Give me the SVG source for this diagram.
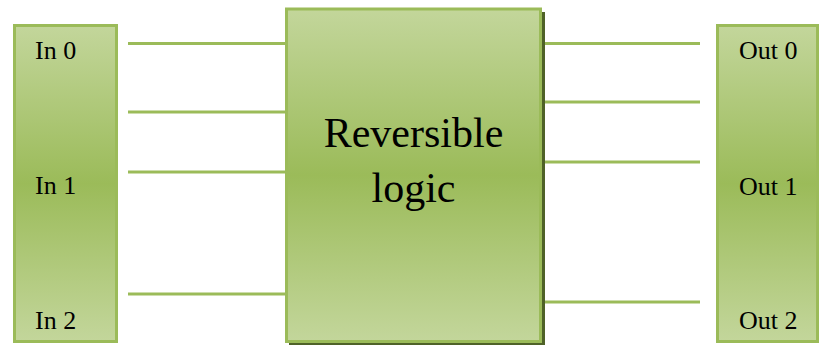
<svg xmlns="http://www.w3.org/2000/svg" width="822" height="347" viewBox="0 0 822 347">
<defs>
<linearGradient id="g" x1="0" y1="0" x2="0" y2="1">
<stop offset="0" stop-color="#C3D69B"/>
<stop offset="0.5" stop-color="#9BBB59"/>
<stop offset="1" stop-color="#C3D69B"/>
</linearGradient>
<style>
.box{fill:url(#g);stroke:#9BBB59;stroke-width:3}
.shadow{fill:#4F6228}
.ln{stroke:#9BBB59;stroke-width:3;fill:none}
.t{font-family:"Liberation Serif","Times New Roman",serif;font-size:26px;fill:#000}
.big{font-family:"Liberation Serif","Times New Roman",serif;font-size:42px;fill:#000;text-anchor:middle}
</style>
</defs>
<rect width="822" height="347" fill="#fff"/>
<g id="connectors">
<line class="ln" x1="128" y1="43.5" x2="286" y2="43.5"/>
<line class="ln" x1="128" y1="112" x2="286" y2="112"/>
<line class="ln" x1="128" y1="172" x2="286" y2="172"/>
<line class="ln" x1="128" y1="294" x2="286" y2="294"/>
<line class="ln" x1="542" y1="43.5" x2="700" y2="43.5"/>
<line class="ln" x1="542" y1="102" x2="700" y2="102"/>
<line class="ln" x1="542" y1="162" x2="700" y2="162"/>
<line class="ln" x1="542" y1="302" x2="700" y2="302"/>
</g>
<g id="inputs">
<rect class="box" x="14.5" y="25.5" width="102" height="316"/>
<text class="t" x="35" y="59">In 0</text>
<text class="t" x="35" y="194">In 1</text>
<text class="t" x="35" y="329">In 2</text>
</g>
<g id="logic">
<rect class="shadow" x="289" y="12" width="256" height="333"/>
<rect class="box" x="286.5" y="9" width="254" height="332.5"/>
<text class="big" x="413.5" y="147">Reversible</text>
<text class="big" x="413.5" y="202">logic</text>
</g>
<g id="outputs">
<rect class="box" x="717.5" y="25.5" width="100" height="316"/>
<text class="t" x="739" y="59">Out 0</text>
<text class="t" x="739" y="195">Out 1</text>
<text class="t" x="739" y="329">Out 2</text>
</g>
</svg>
